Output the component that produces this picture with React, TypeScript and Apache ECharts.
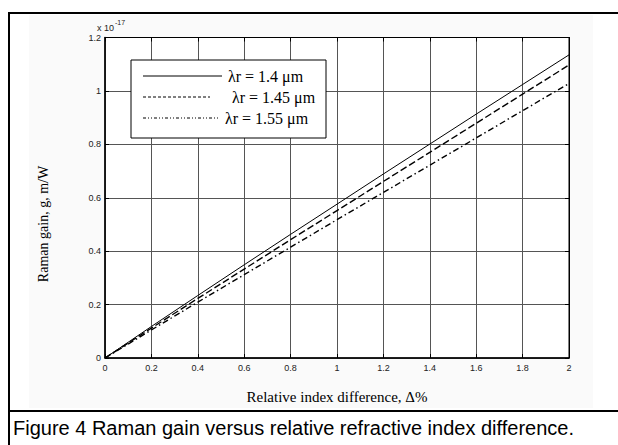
import React, { useEffect, useRef } from "react";
import * as echarts from "echarts";

const deltaPct = [0, 0.2, 0.4, 0.6, 0.8, 1.0, 1.2, 1.4, 1.6, 1.8, 2.0];
const gain140 = [0, 0.118, 0.234, 0.349, 0.463, 0.576, 0.689, 0.801, 0.913, 1.024, 1.135];
const gain145 = [0, 0.112, 0.223, 0.333, 0.443, 0.552, 0.661, 0.77, 0.879, 0.988, 1.097];
const gain155 = [0, 0.105, 0.209, 0.312, 0.415, 0.518, 0.62, 0.722, 0.824, 0.926, 1.028];

const seriesNames = ["λr = 1.4 μm", "λr = 1.45 μm", "λr = 1.55 μm"];
const xTitle = "Relative index difference, Δ%";
const yTitle = "Raman gain, g, m/W";
const caption = "Figure 4 Raman gain versus relative refractive index difference.";

const fmt = (v: number) => String(Math.round(v * 10) / 10);

export default function App() {
  const ref = useRef<HTMLDivElement>(null);
  useEffect(() => {
    if (!ref.current) return;
    const chart = echarts.init(ref.current, undefined, { renderer: "svg" });
    const serif = "'Liberation Serif', 'Times New Roman', serif";
    const sans = "'Liberation Sans', Arial, sans-serif";
    const toPairs = (ys: number[]) => deltaPct.map((x, i) => [x, ys[i]]);
    const GL = 105, GT = 37.5, GW = 464, GH = 320.5;
    const lx = 131, ly = 60;
    chart.setOption({
      animation: false,
      backgroundColor: "#ffffff",
      grid: { left: GL, top: GT, width: GW, height: GH, show: true, backgroundColor: "#ffffff", borderColor: "#000", borderWidth: 1 },
      xAxis: [
        {
          type: "value", min: 0, max: 2, interval: 0.2,
          axisLine: { onZero: false, lineStyle: { color: "#000", width: 1.5 } },
          axisTick: { inside: true, length: 4, lineStyle: { color: "#000" } },
          axisLabel: { formatter: fmt, color: "#222", fontSize: 9, fontFamily: sans, margin: 5 },
          splitLine: { show: true, lineStyle: { color: "#555", width: 1 } },
          name: xTitle, nameLocation: "middle", nameGap: 31,
          nameTextStyle: { color: "#000", fontSize: 15, fontFamily: serif },
        },
        {
          type: "value", min: 0, max: 2, interval: 0.2, position: "top",
          axisLine: { onZero: false, lineStyle: { color: "#000" } },
          axisTick: { inside: true, length: 4, lineStyle: { color: "#000" } },
          axisLabel: { show: false }, splitLine: { show: false },
        },
      ],
      yAxis: [
        {
          type: "value", min: 0, max: 1.2, interval: 0.2,
          axisLine: { onZero: false, lineStyle: { color: "#000", width: 1.5 } },
          axisTick: { inside: true, length: 4, lineStyle: { color: "#000" } },
          axisLabel: { formatter: fmt, color: "#222", fontSize: 9, fontFamily: sans, margin: 4 },
          splitLine: { show: true, lineStyle: { color: "#555", width: 1 } },
        },
        {
          type: "value", min: 0, max: 1.2, interval: 0.2, position: "right",
          axisLine: { onZero: false, lineStyle: { color: "#000" } },
          axisTick: { inside: true, length: 4, lineStyle: { color: "#000" } },
          axisLabel: { show: false }, splitLine: { show: false },
        },
      ],
      series: [
        { name: seriesNames[0], type: "line", showSymbol: false, data: toPairs(gain140), lineStyle: { color: "#000", width: 1 } },
        { name: seriesNames[1], type: "line", showSymbol: false, data: toPairs(gain145), lineStyle: { color: "#000", width: 1.4, type: [7, 3] } },
        { name: seriesNames[2], type: "line", showSymbol: false, data: toPairs(gain155), lineStyle: { color: "#000", width: 1.4, type: [6, 3, 1.5, 3] } },
      ],
      graphic: [
        { type: "rect", z: -10, shape: { x: 29, y: 15, width: 564, height: 393 }, style: { fill: "#fafafa" }, silent: true },
        { type: "line", z: 100, shape: { x1: 8, y1: 13, x2: 618, y2: 13 }, style: { stroke: "#000", lineWidth: 2 } },
        { type: "line", z: 100, shape: { x1: 9, y1: 12, x2: 9, y2: 445 }, style: { stroke: "#000", lineWidth: 2 } },
        { type: "line", z: 100, shape: { x1: 8, y1: 411, x2: 618, y2: 411 }, style: { stroke: "#000", lineWidth: 2 } },
        { type: "text", z: 100, x: 97, y: 23, style: { text: "x 10", fill: "#222", font: `9px ${sans}` } },
        { type: "text", z: 100, x: 115, y: 19, style: { text: "-17", fill: "#222", font: `7px ${sans}` } },
        { type: "text", z: 100, x: 43, y: 224, rotation: Math.PI / 2, style: { text: yTitle, fill: "#000", font: `14px ${serif}`, align: "center", verticalAlign: "middle" } },
        { type: "rect", z: 50, shape: { x: lx, y: ly, width: 195, height: 78 }, style: { fill: "#fff", stroke: "#000", lineWidth: 1 } },
        { type: "line", z: 51, shape: { x1: 143, y1: 76, x2: 222, y2: 76 }, style: { stroke: "#000", lineWidth: 1 } },
        { type: "line", z: 51, shape: { x1: 143, y1: 97, x2: 210, y2: 97 }, style: { stroke: "#000", lineWidth: 1, lineDash: [3, 2] } },
        { type: "line", z: 51, shape: { x1: 143, y1: 118, x2: 220, y2: 118 }, style: { stroke: "#000", lineWidth: 1, lineDash: [3, 2, 1, 2, 1, 2] } },
        { type: "text", z: 51, x: 228, y: 76, style: { text: seriesNames[0], fill: "#000", font: `16px ${serif}`, verticalAlign: "middle" } },
        { type: "text", z: 51, x: 232, y: 97, style: { text: seriesNames[1], fill: "#000", font: `16px ${serif}`, verticalAlign: "middle" } },
        { type: "text", z: 51, x: 225, y: 118, style: { text: seriesNames[2], fill: "#000", font: `16px ${serif}`, verticalAlign: "middle" } },
        { type: "text", z: 100, x: 13, y: 428, style: { text: caption, fill: "#000", font: `20px 'Liberation Sans Narrow', 'Liberation Sans', Arial, sans-serif`, verticalAlign: "middle" } },
      ],
    });
    return () => chart.dispose();
  }, []);
  return <div ref={ref} style={{ position: "fixed", left: 0, top: 0, width: 618, height: 445 }} />;
}
